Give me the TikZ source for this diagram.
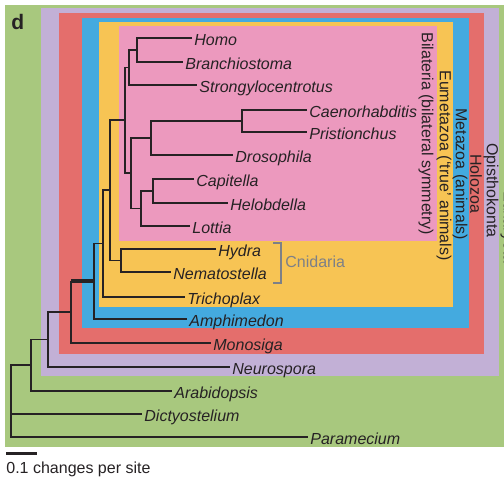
\documentclass[tikz,border=0pt]{standalone}
\usepackage{fontspec}
\setmainfont{Liberation Sans}
\usepackage{xcolor}
\usepackage{tikz}

\definecolor{eukgreen}{RGB}{168,200,126}
\definecolor{opipurple}{RGB}{194,176,214}
\definecolor{holred}{RGB}{228,110,108}
\definecolor{metblue}{RGB}{68,170,223}
\definecolor{eumyellow}{RGB}{247,196,84}
\definecolor{bilpink}{RGB}{236,153,190}
\definecolor{inkgray}{RGB}{38,34,36}
\definecolor{cnigray}{RGB}{125,128,135}

\begin{document}
\begin{tikzpicture}[x=0.5pt, y=-0.5pt,
        every node/.style={font=\fontsize{8}{9.6}\selectfont, text=inkgray},
        leaf/.style={anchor=west, inner xsep=1pt, inner ysep=0pt, text height=1.4ex, text depth=0pt,
            font=\fontsize{8}{9.6}\selectfont\itshape},
        clade/.style={rotate=-90, anchor=west, inner sep=0pt},
        branch/.style={draw=inkgray, line width=0.7pt},
        stem/.style={draw=inkgray, line width=2pt}]
        \useasboundingbox (0,0) rectangle (504,477);
        \fill [white] (0,0) rectangle (504,477);
        % 分类框
        \fill [eukgreen] (5,5) rectangle (515,447);
        \fill [opipurple] (41,8) rectangle (499,376);
        \fill [holred] (59,13) rectangle (484,354);
        \fill [metblue] (82,18) rectangle (469,328);
        \fill [eumyellow] (99,22) rectangle (453,307);
        \fill [bilpink] (119,26) rectangle (437,241);
        % 分类名
        \node [clade] (lBil) at (426,32) {Bilateria (bilateral symmetry)};
        \node [clade] (lEum) at (444,70) {Eumetazoa (‘true’ animals)};
        \node [clade] (lMet) at (460,108) {Metazoa (animals)};
        \node [clade] (lHol) at (476,154) {Holozoa};
        \node [clade] (lOpi) at (491,143) {Opisthokonta};
        \node [clade] (lEuk) at (508,191) {Eukaryota};
        \node [font=\fontsize{10.5}{12}\selectfont\bfseries, anchor=base west, inner sep=0pt] (panel) at (11,29) {d};
        % 物种
        \node [leaf] (homo) at (192,38) {Homo};
        \node [leaf] (branchio) at (183,62) {Branchiostoma};
        \node [leaf] (strongy) at (197,85) {Strongylocentrotus};
        \node [leaf] (caeno) at (307,110) {Caenorhabditis};
        \node [leaf] (pristi) at (307,132) {Pristionchus};
        \node [leaf] (droso) at (233,155) {Drosophila};
        \node [leaf] (capit) at (194,179) {Capitella};
        \node [leaf] (helob) at (228,203) {Helobdella};
        \node [leaf] (lottia) at (190,226) {Lottia};
        \node [leaf] (hydra) at (216,249) {Hydra};
        \node [leaf] (nemato) at (171,272) {Nematostella};
        \node [leaf] (tricho) at (185,297) {Trichoplax};
        \node [leaf] (amphi) at (187,319) {Amphimedon};
        \node [leaf] (monosiga) at (211,343) {Monosiga};
        \node [leaf] (neuro) at (230,367) {Neurospora};
        \node [leaf] (arabid) at (172,391) {Arabidopsis};
        \node [leaf] (dicty) at (142,414) {Dictyostelium};
        \node [leaf] (param) at (308,437) {Paramecium};
        % 内部节点
        \coordinate (nHB) at (137,50);
        \coordinate (nDeu) at (129,67.5);
        \coordinate (nNem) at (242,121);
        \coordinate (nEcd) at (151,138);
        \coordinate (nCH) at (153,191);
        \coordinate (nLop) at (141,208.5);
        \coordinate (nPro) at (131,173);
        \coordinate (nBil) at (125,120);
        \coordinate (nCni) at (121,260.5);
        \coordinate (nEum) at (110,190);
        \coordinate (nPar) at (103,243.5);
        \coordinate (nMet) at (94,281);
        \coordinate (nHol) at (71,312);
        \coordinate (nOpi) at (48,339.5);
        \coordinate (nUni) at (31,365);
        \coordinate (nRoot) at (11,401);
        % 树枝
        \draw [branch] (homo.west) -| (nHB) |- (branchio.west);
        \draw [branch] (nHB) -| (nDeu) |- (strongy.west);
        \draw [branch] (caeno.west) -| (nNem) |- (pristi.west);
        \draw [branch] (nNem) -| (nEcd) |- (droso.west);
        \draw [branch] (capit.west) -| (nCH) |- (helob.west);
        \draw [branch] (nCH) -| (nLop) |- (lottia.west);
        \draw [branch] (nEcd) -| (nPro) |- (nLop);
        \draw [branch] (nDeu) -| (nBil) |- (nPro);
        \draw [branch] (hydra.west) -| (nCni) |- (nemato.west);
        \draw [branch] (nBil) -| (nEum) |- (nCni);
        \draw [branch] (nEum) -| (nPar) |- (tricho.west);
        \draw [branch] (nPar) -| (nMet) |- (amphi.west);
        \draw [stem] (nHol |- nMet) -- (nMet);
        \draw [branch] (nHol |- nMet) -- (nHol) |- (monosiga.west);
        \draw [branch] (nHol) -| (nOpi) |- (neuro.west);
        \draw [branch] (nOpi) -| (nUni) |- (arabid.west);
        \draw [branch] (nUni) -| (nRoot) |- (param.west);
        \draw [branch] (nRoot) |- (dicty.west);
        % Cnidaria 括号
        \draw [cnigray, line width=0.75pt] (273,243) -- (281,243) -- (281,283) -- (273,283);
        \node [anchor=west, inner sep=0pt, text=cnigray] (cnid) at (285,262) {Cnidaria};
        % 比例尺
        \draw [inkgray, line width=1.5pt] (6,453) coordinate (s0) -- (37,453) coordinate (s1);
        \node [anchor=base west, inner sep=0pt] (scale) at (6,473) {0.1 changes per site};
    \end{tikzpicture}
\end{document}
